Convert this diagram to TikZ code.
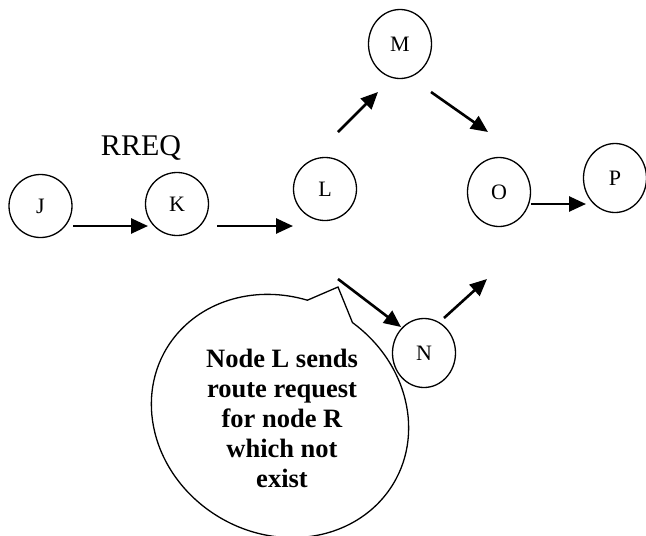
\documentclass[tikz,border=0pt]{standalone}
\usepackage{fontspec}
\setmainfont{Liberation Serif}
\usetikzlibrary{shapes.geometric,arrows.meta}
\begin{document}
\begin{tikzpicture}[x=1pt,y=1pt,
  nd/.style={ellipse, draw, line width=1.3pt, inner sep=0pt,
    minimum width=63pt, minimum height=69pt, font=\fontsize{22}{26}\selectfont},
  ndsmall/.style={nd, minimum height=63pt},
  arr/.style={line width=2.6pt, -{Triangle[length=17pt,width=15pt]}},
  bubble/.style={line width=1.3pt},
  bubbletext/.style={font=\bfseries\fontsize{26.5}{30}\selectfont, align=center},
  lbl/.style={font=\fontsize{30}{34}\selectfont, anchor=base}]
\useasboundingbox (0,0) rectangle (646,-536);

% nodes
\node[ndsmall] (J) at (40.5,-206) {J};
\node[ndsmall] (K) at (177,-204) {K};
\node[ndsmall] (L) at (325,-189) {L};
\node[nd] (M) at (400,-44) {M};
\node[nd] (O) at (499,-192) {O};
\node[nd] (P) at (615,-178) {P};
\node[nd] (N) at (424,-353) {N};

\node[lbl] (rreq) at (141,-155) {RREQ};

% arrow end points
\coordinate (jk1) at (73,-226);  \coordinate (jk2) at (148,-226);
\coordinate (kl1) at (217,-226); \coordinate (kl2) at (293,-226);
\coordinate (lm1) at (338,-132); \coordinate (lm2) at (378,-92);
\coordinate (mo1) at (431,-92);  \coordinate (mo2) at (488,-132);
\coordinate (op1) at (531,-204); \coordinate (op2) at (586,-204);
\coordinate (ln1) at (338,-279); \coordinate (ln2) at (401,-327);
\coordinate (no1) at (444,-318); \coordinate (no2) at (487,-279);

\draw[arr] (jk1) -- (jk2);
\draw[arr] (kl1) -- (kl2);
\draw[arr] (lm1) -- (lm2);
\draw[arr] (mo1) -- (mo2);
\draw[arr] (op1) -- (op2);
\draw[arr] (ln1) -- (ln2);
\draw[arr] (no1) -- (no2);

% speech bubble
\coordinate (tip) at (338,-287);
\begin{scope}[shift={(280,-416)}, rotate=-30]
  \draw[bubble] (83:132 and 118)
    arc[start angle=83, end angle=-255, x radius=132, y radius=118]
    -- (tip) -- cycle;
\end{scope}
\node[bubbletext] (txt) at (282,-418) {Node L sends\\route request\\for node R\\which not\\exist};
\end{tikzpicture}
\end{document}
